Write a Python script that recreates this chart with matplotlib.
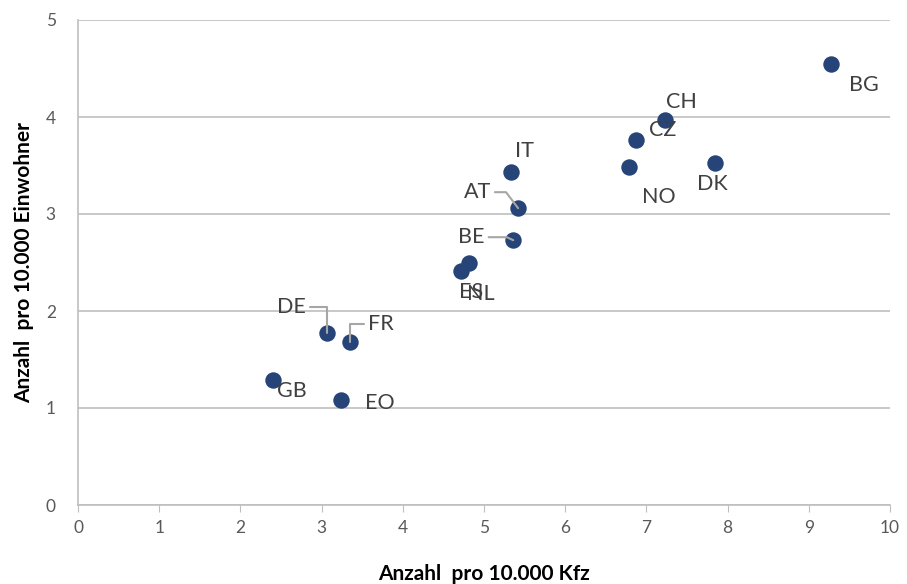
import matplotlib.pyplot as plt

plt.rcParams['font.family'] = ['Lato', 'DejaVu Sans']

# Länder und Werte (Anzahl pro 10.000 Kfz / pro 10.000 Einwohner)
laender = ['BG', 'CH', 'CZ', 'NO', 'DK', 'IT', 'AT', 'BE', 'ES', 'NL', 'DE', 'FR', 'GB', 'EO']
pro_kfz = [9.27, 7.23, 6.87, 6.79, 7.84, 5.33, 5.42, 5.36, 4.72, 4.82, 3.07, 3.35, 2.40, 3.24]
pro_einwohner = [4.55, 3.97, 3.76, 3.48, 3.53, 3.43, 3.06, 2.73, 2.41, 2.49, 1.77, 1.68, 1.29, 1.08]

# Versatz der Beschriftungen in Pixeln
versatz = {
    'BG': (33, -21), 'CH': (16, 18), 'CZ': (27, 10), 'NO': (29, -30),
    'DK': (-2, -21), 'IT': (14, 21), 'AT': (-41, 16), 'BE': (-42, 3),
    'ES': (10, -21), 'NL': (11, -31), 'DE': (-36, 26), 'FR': (31, 18),
    'GB': (19, -11), 'EO': (39, -3),
}
# Führungslinien: (relpos am Text, Winkel am Punkt)
fuehrung = {
    'DE': ((1, 0.5), 90), 'FR': ((0, 0.5), 90),
    'AT': ((1, 0.5), 127), 'BE': ((1, 0.5), 155),
}

fig = plt.figure(figsize=(9.07, 5.84), dpi=100)
ax = fig.add_axes([78 / 907, 79 / 584, 812 / 907, 485 / 584])

ax.scatter(pro_kfz, pro_einwohner, s=140, color='#264478', zorder=3, linewidths=0)

for name, x, y in zip(laender, pro_kfz, pro_einwohner):
    arrow = None
    if name in fuehrung:
        rel, winkel = fuehrung[name]
        arrow = dict(arrowstyle='-', color='#a6a6a6', lw=1.5, shrinkA=1, shrinkB=0,
                     relpos=rel,
                     connectionstyle='angle,angleA=0,angleB=%d,rad=0' % winkel)
    ax.annotate(name, (x, y), xytext=versatz[name], textcoords='offset pixels',
                ha='center', va='center', fontsize=15.5, color='#404040',
                arrowprops=arrow, zorder=4)

ax.set_xlim(0, 10)
ax.set_ylim(0, 5)
ax.set_xticks(range(0, 11))
ax.set_yticks(range(0, 6))
ax.grid(axis='y', color='#bfbfbf', lw=1.2)
ax.set_axisbelow(True)
for s in ['top', 'right']:
    ax.spines[s].set_visible(False)
ax.spines['left'].set_color('#bfbfbf')
ax.spines['bottom'].set_color('#bfbfbf')
ax.spines['left'].set_linewidth(1.2)
ax.spines['bottom'].set_linewidth(1.2)
ax.tick_params(axis='y', length=0, pad=16, labelsize=12.5, labelcolor='#595959')
ax.tick_params(axis='x', length=5, color='#bfbfbf', pad=6, labelsize=12.5, labelcolor='#595959')

ax.set_xlabel('Anzahl  pro 10.000 Kfz', fontsize=15, fontweight='bold', labelpad=20)
ax.set_ylabel('Anzahl  pro 10.000 Einwohner', fontsize=15, fontweight='bold', labelpad=8)

fig.savefig('out.png', dpi=100)
